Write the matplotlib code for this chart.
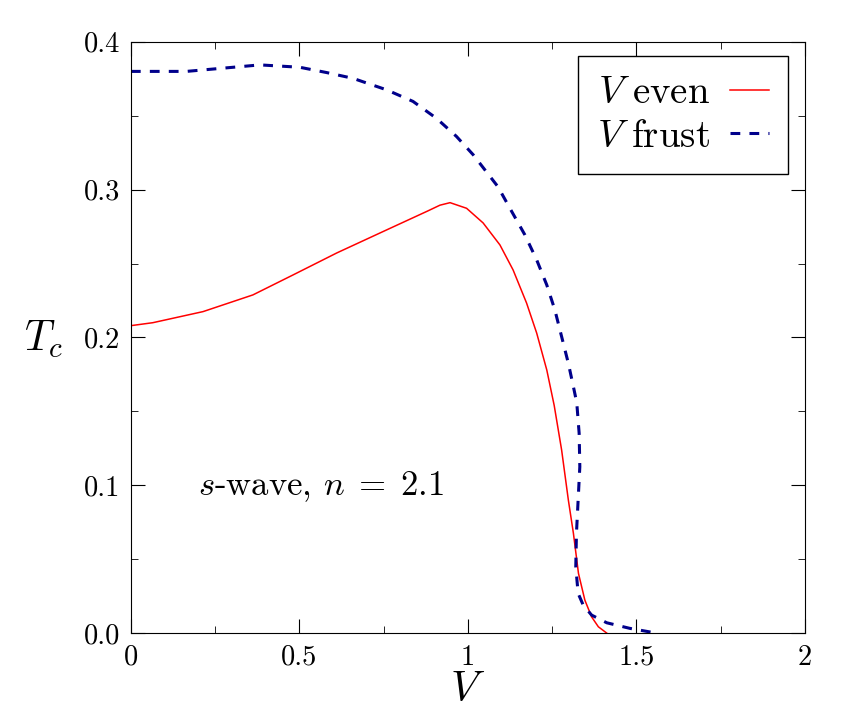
import numpy as np
import matplotlib
matplotlib.use('Agg')
import matplotlib.pyplot as plt
from matplotlib.ticker import MultipleLocator, FormatStrFormatter

plt.rcParams['font.family'] = 'serif'
plt.rcParams['font.serif'] = ['cmr10']
plt.rcParams['mathtext.fontset'] = 'cm'
plt.rcParams['axes.formatter.use_mathtext'] = True

# V even (garis merah)
v_even = [0.0, 0.065, 0.214, 0.362, 0.481, 0.611, 0.760, 0.880, 0.917, 0.947, 0.996,
          1.045, 1.095, 1.134, 1.174, 1.204, 1.234, 1.256, 1.278, 1.298, 1.313, 1.328,
          1.347, 1.367, 1.387, 1.412]
tc_even = [0.208, 0.210, 0.2175, 0.2288, 0.2423, 0.2572, 0.2729, 0.2855, 0.2895, 0.2912, 0.2874,
           0.2775, 0.2626, 0.2457, 0.2233, 0.2030, 0.1780, 0.1540, 0.1239, 0.0900, 0.0675, 0.0404,
           0.0223, 0.0110, 0.0043, 0.0]

# V frust (garis putus-putus biru)
v_frust = [0.0, 0.165, 0.264, 0.383, 0.501, 0.581, 0.659, 0.759, 0.837, 0.907, 0.966,
           1.016, 1.089, 1.130, 1.169, 1.204, 1.234, 1.258, 1.278, 1.298, 1.315, 1.323,
           1.330, 1.332, 1.327, 1.322, 1.320, 1.327, 1.342, 1.367, 1.412, 1.481, 1.560]
tc_frust = [0.380, 0.380, 0.382, 0.3844, 0.3828, 0.3792, 0.3753, 0.3675, 0.3597, 0.3482, 0.336,
            0.3235, 0.302, 0.2852, 0.2694, 0.2525, 0.2355, 0.2186, 0.2006, 0.1825, 0.1645, 0.1557,
            0.1352, 0.1126, 0.090, 0.0675, 0.0449, 0.0269, 0.019, 0.0122, 0.007, 0.0032, 0.0]

fig = plt.figure(figsize=(8.5, 7.09), dpi=100)
ax = fig.add_axes([0.154, 0.107, 0.793, 0.834])

ax.plot(v_even, tc_even, color='#ff0000', lw=1.1, label=r'$V\ \mathrm{even}$')
ax.plot(v_frust, tc_frust, color='#00008b', lw=2.2, dashes=(3.2, 3.0), label=r'$V\ \mathrm{frust}$')

ax.set_xlim(0, 2)
ax.set_ylim(0, 0.4)
ax.xaxis.set_major_locator(MultipleLocator(0.5))
ax.xaxis.set_minor_locator(MultipleLocator(0.25))
ax.yaxis.set_major_locator(MultipleLocator(0.1))
ax.yaxis.set_minor_locator(MultipleLocator(0.05))
ax.xaxis.set_major_formatter(FormatStrFormatter('%g'))
ax.yaxis.set_major_formatter(FormatStrFormatter('%.1f'))
ax.tick_params(which='both', direction='in', top=True, right=True, labelsize=20.5, pad=8)
ax.tick_params(which='major', length=10)
ax.tick_params(which='minor', length=5)

ax.set_xlabel(r'$V$', fontsize=31, labelpad=1)
ax.set_ylabel(r'$T_c$', fontsize=30, rotation=0)
ax.yaxis.set_label_coords(-0.13, 0.462)

ax.text(0.20, 0.0934, r'$s$-wave, $n\;=\;2.1$', fontsize=25)

leg = ax.legend(loc='upper right', fontsize=28, markerfirst=False, fancybox=False,
                edgecolor='black', framealpha=1, handlelength=1.0, borderpad=0.5,
                labelspacing=0.2, handletextpad=0.5, borderaxespad=0,
                bbox_to_anchor=(0.975, 0.976))
leg.get_frame().set_linewidth(1.0)

fig.savefig('out.png', dpi=100)
